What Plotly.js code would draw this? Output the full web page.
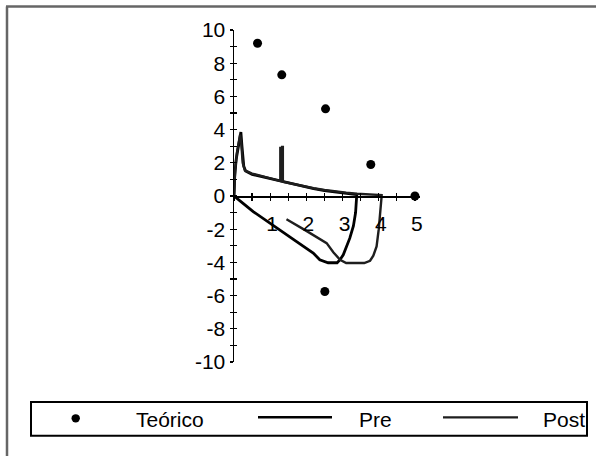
<!DOCTYPE html>
<html>
<head>
<meta charset="utf-8">
<script src="https://cdn.plot.ly/plotly-3.0.1.min.js"></script>
<style>html,body{margin:0;padding:0;background:#fff}#chart{width:596px;height:456px}</style>
</head>
<body>
<div id="chart"></div>
<script>
// ---- Data ----
var teoricoX = [0.65, 1.32, 2.53, 3.78, 5.0, 2.51];
var teoricoY = [9.2, 7.3, 5.25, 1.9, 0, -5.75];

var preX = [0, 0.02, 0.06, 0.11, 0.16, 0.19, 0.22, 0.27, 0.32, 0.5, 0.8, 1.0, 1.3, 1.6, 1.9, 2.2, 2.5, 2.8, 3.1, 3.39,
            3.39, 3.36, 3.3, 3.2, 3.02, 2.93, 2.85, 2.6, 2.37, 2.19, 1.7, 1.27, 0.8, 0.53, 0.2, 0];
var preY = [0, 1.2, 2.2, 2.8, 3.5, 3.85, 3.0, 1.8, 1.5, 1.3, 1.15, 1.05, 0.9, 0.72, 0.58, 0.45, 0.33, 0.24, 0.16, 0.08,
            0, -1.0, -1.8, -2.54, -3.54, -3.84, -4.02, -4.02, -3.84, -3.44, -2.7, -2.04, -1.34, -0.94, -0.35, 0];

var postX = [0, 0.03, 0.08, 0.13, 0.17, 0.2, 0.24, 0.3, 0.5, 0.8, 1.0, 1.27, 1.28, 1.28, 1.30, 1.30, 1.33, 1.33, 1.35, 1.35,
             1.6, 1.9, 2.2, 2.5, 2.8, 3.1, 3.4, 3.7, 4.0, 4.08,
             4.08, 4.05, 4.0, 3.94, 3.85, 3.76, 3.6, 3.1, 2.93, 2.75, 2.56, 2.0, 1.45];
var postY = [0, 1.5, 2.6, 3.3, 3.7, 3.2, 2.0, 1.55, 1.35, 1.18, 1.06, 0.92, 0.9, 2.9, 2.9, 0.9, 0.88, 2.95, 2.95, 0.86,
             0.74, 0.6, 0.47, 0.36, 0.27, 0.2, 0.14, 0.1, 0.07, 0.05,
             0, -1.0, -2.0, -3.04, -3.6, -3.9, -4.04, -4.04, -3.84, -3.4, -2.84, -2.1, -1.4];

var xTickVals = [1, 2, 3, 4, 5];
var yTickVals = [-10, -8, -6, -4, -2, 0, 2, 4, 6, 8, 10];
var yTickText = ['-10', '-8', '-6', '-4', '-2', '0', '2', '4', '6', '8', '10'];
var legendNames = ['Teórico', 'Pre', 'Post'];

// ---- Layout helpers (pixel -> paper) ----
var L = 234, R = 420, T = 29.5, B = 362.5;
function px(x) { return (x - L) / (R - L); }
function py(y) { return (B - y) / (B - T); }

var font = {family: "'Liberation Sans', Arial, sans-serif", size: 21, color: '#000'};
var postColor = '#1e1e1e';

var traces = [
  {x: preX, y: preY, mode: 'lines', line: {color: '#000', width: 2.8}, name: legendNames[1], showlegend: false, cliponaxis: false},
  {x: postX, y: postY, mode: 'lines', line: {color: postColor, width: 2.4}, name: legendNames[2], showlegend: false, cliponaxis: false},
  {x: teoricoX, y: teoricoY, mode: 'markers', marker: {color: '#000', size: 9}, name: legendNames[0], showlegend: false, cliponaxis: false},
  {x: [0], y: [0], xaxis: 'x2', yaxis: 'y2', mode: 'markers', marker: {opacity: 0}, showlegend: false, hoverinfo: 'skip'}
];

var shapes = [
  // outer frame (left and top)
  {type: 'line', xref: 'paper', yref: 'paper', x0: px(7), x1: px(7), y0: py(6), y1: py(460), line: {color: '#666', width: 2.5}},
  {type: 'line', xref: 'paper', yref: 'paper', x0: px(6), x1: px(600), y0: py(6), y1: py(6), line: {color: '#666', width: 2.5}},
  // legend box
  {type: 'rect', xref: 'paper', yref: 'paper', x0: px(31), x1: px(587), y0: py(402.5), y1: py(436.5), line: {color: '#000', width: 2}},
  // legend symbols
  {type: 'circle', xref: 'paper', yref: 'paper', x0: px(71.5), x1: px(79.9), y0: py(414.8), y1: py(423.2), fillcolor: '#000', line: {width: 0}},
  {type: 'line', xref: 'paper', yref: 'paper', x0: px(258), x1: px(332), y0: py(418), y1: py(418), line: {color: '#000', width: 2.5}},
  {type: 'line', xref: 'paper', yref: 'paper', x0: px(443), x1: px(518), y0: py(418), y1: py(418), line: {color: postColor, width: 2.2}}
];

var annotations = [
  {text: legendNames[0], xref: 'paper', yref: 'paper', x: px(134), y: py(420), xanchor: 'left', yanchor: 'middle', showarrow: false, font: font},
  {text: legendNames[1], xref: 'paper', yref: 'paper', x: px(357), y: py(420), xanchor: 'left', yanchor: 'middle', showarrow: false, font: font},
  {text: legendNames[2], xref: 'paper', yref: 'paper', x: px(541), y: py(420), xanchor: 'left', yanchor: 'middle', showarrow: false, font: font}
];

var layout = {
  width: 596, height: 456,
  margin: {l: L, r: 596 - R, t: T, b: 456 - B, pad: 0},
  paper_bgcolor: '#fff', plot_bgcolor: '#fff',
  font: font,
  showlegend: false,
  xaxis: {
    range: [0, 5.14], anchor: 'free', position: 0.5,
    showline: true, linecolor: '#000', linewidth: 1.5,
    showgrid: false, zeroline: false,
    tickmode: 'array', tickvals: xTickVals, ticktext: xTickVals.map(String),
    ticks: 'outside', ticklen: 3, tickwidth: 1.2, tickcolor: '#000',
    minor: {dtick: 0.5, tick0: 0, ticks: 'outside', ticklen: 3, tickwidth: 1.2, tickcolor: '#000', showgrid: false},
    ticklabelstandoff: 5, ticklabelshift: 2,
    tickfont: font
  },
  yaxis: {
    range: [-10, 10], anchor: 'x',
    showline: true, linecolor: '#000', linewidth: 1.5,
    showgrid: false, zeroline: false,
    tickmode: 'array', tickvals: yTickVals, ticktext: yTickText,
    ticks: 'outside', ticklen: 3, tickwidth: 1.2, tickcolor: '#000',
    minor: {dtick: 1, tick0: 0, ticks: 'outside', ticklen: 3, tickwidth: 1.2, tickcolor: '#000', showgrid: false},
    ticklabelstandoff: 0,
    tickfont: font
  },
  xaxis2: {
    range: [0, 5.14], overlaying: 'x', anchor: 'free', position: 0.5,
    showline: false, showgrid: false, zeroline: false, showticklabels: false,
    dtick: 0.5, tick0: 0, ticks: 'inside', ticklen: 3, tickwidth: 1.2, tickcolor: '#000'
  },
  yaxis2: {
    range: [-10, 10], overlaying: 'y', anchor: 'x2',
    showline: false, showgrid: false, zeroline: false, showticklabels: false,
    dtick: 1, tick0: 0, ticks: 'inside', ticklen: 3, tickwidth: 1.2, tickcolor: '#000'
  },
  shapes: shapes,
  annotations: annotations
};

Plotly.newPlot('chart', traces, layout, {staticPlot: true, displayModeBar: false});
</script>
</body>
</html>
